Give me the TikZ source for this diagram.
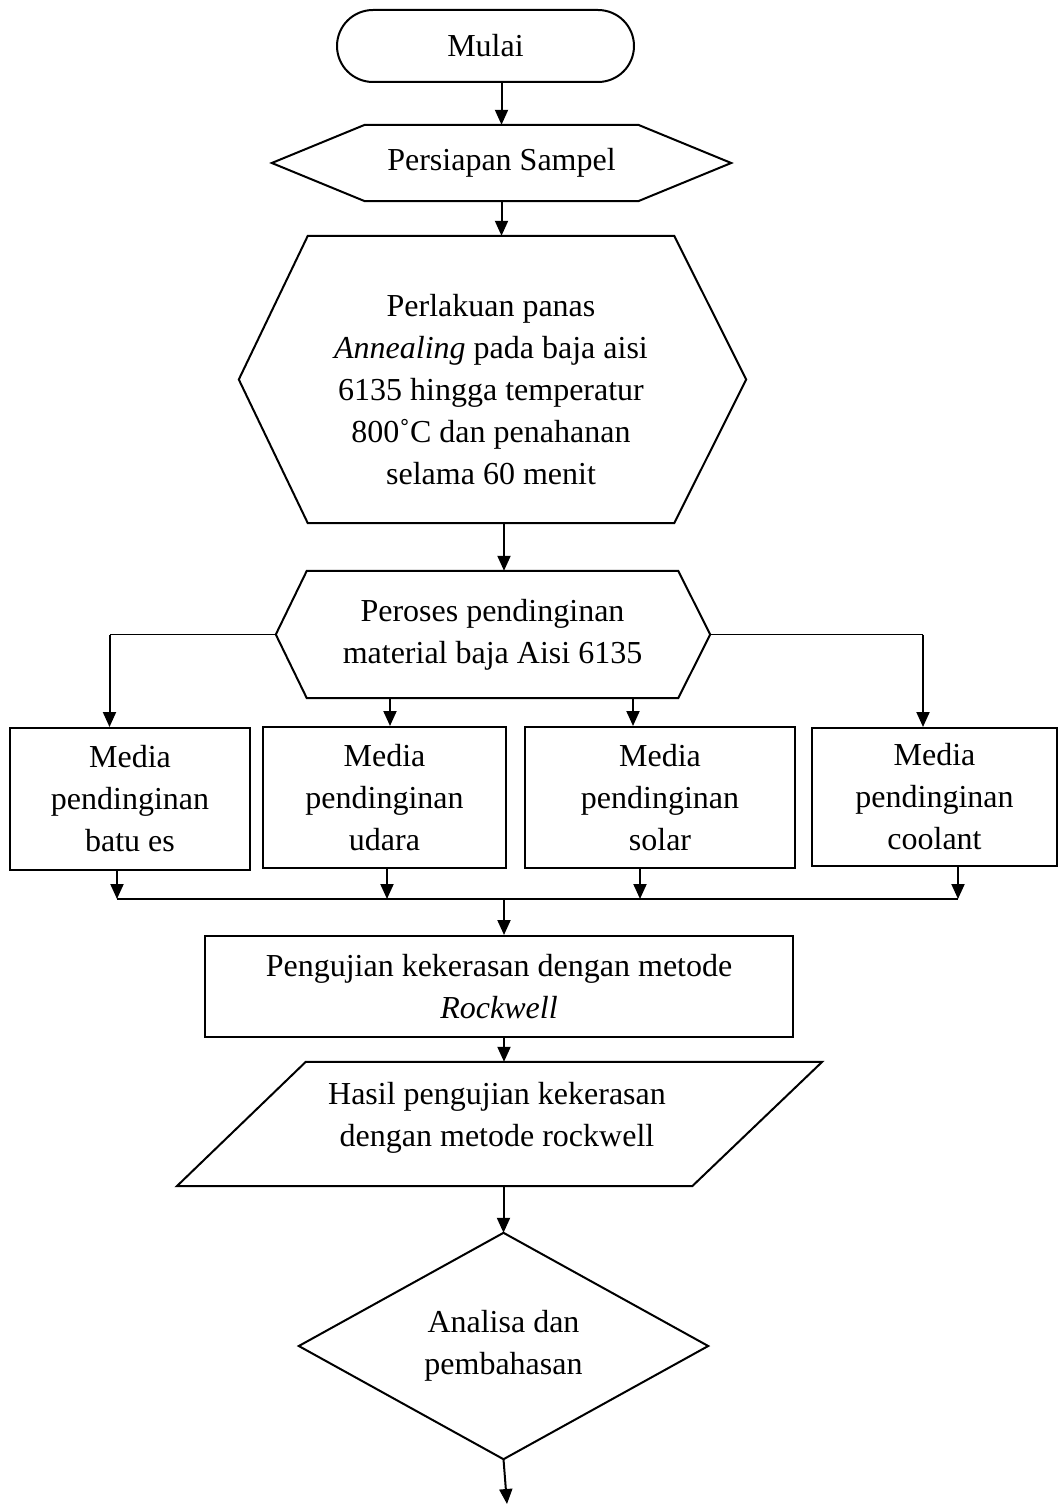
\documentclass[tikz,border=0pt]{standalone}
\usepackage{fontspec}
\setmainfont{Liberation Serif}
\usetikzlibrary{arrows.meta,calc}

\begin{document}
\begin{tikzpicture}[
  x=1pt, y=-1pt,
  font=\fontsize{32}{42}\selectfont,
  >={Triangle[length=15pt,width=13pt]},
  term/.style={draw,line width=2pt,rounded corners=36pt,inner sep=0pt,
               minimum width=297pt,minimum height=72pt},
  area/.style={align=center,inner sep=0pt},
  box/.style={draw,line width=2pt,align=center,inner sep=0pt},
  outline/.style={line width=2pt,line join=miter},
  flow/.style={->,line width=2pt},
  link/.style={line width=1.2pt},
]
\useasboundingbox (0,0) rectangle (1058,1506);

% --- main column ---
\node[term] (start) at (485.5,46) {Mulai};
\node[area,minimum width=273pt,minimum height=76pt] (prep) at (501.5,163) {Persiapan Sampel};
\node[area,minimum width=366pt,minimum height=287pt] (heat) at (491,379.5) {};
\node[area] (heattxt) at (491,390)
  {Perlakuan panas\\\textit{Annealing} pada baja aisi\\6135 hingga temperatur\\800˚C dan penahanan\\selama 60 menit};
\node[area,minimum width=371pt,minimum height=127pt] (cool) at (492.5,634.5)
  {Peroses pendinginan\\material baja Aisi 6135};

% --- cooling media ---
\node[box,minimum width=240pt,minimum height=142pt] (box1) at (130,799)   {Media\\pendinginan\\batu es};
\node[box,minimum width=243pt,minimum height=141pt] (box2) at (384.5,797.5) {Media\\pendinginan\\udara};
\node[box,minimum width=270pt,minimum height=141pt] (box3) at (660,797.5)   {Media\\pendinginan\\solar};
\node[box,minimum width=245pt,minimum height=138pt] (box4) at (934.5,797)   {Media\\pendinginan\\coolant};

% --- testing and result ---
\node[box,minimum width=588pt,minimum height=101pt] (test) at (499,986.5)
  {Pengujian kekerasan dengan metode\\\textit{Rockwell}};
\node[area,minimum width=386pt,minimum height=124pt] (out) at (499,1124) {};
\node[area] (outtxt) at (497,1118)
  {Hasil pengujian kekerasan\\dengan metode rockwell};
\node[area,minimum width=409pt,minimum height=226pt] (anal) at (503.5,1346)
  {Analisa dan\\pembahasan};

% --- outlines of the non-rectangular shapes ---
\coordinate (coolL) at ([xshift=-31pt]cool.west);
\coordinate (coolR) at ([xshift=32pt]cool.east);
\draw[outline] ([xshift=-93pt]prep.west) -- (prep.north west) -- (prep.north east)
  -- ([xshift=93pt]prep.east) -- (prep.south east) -- (prep.south west) -- cycle;
\draw[outline] ([xshift=-69pt]heat.west) -- (heat.north west) -- (heat.north east)
  -- ([xshift=72pt]heat.east) -- (heat.south east) -- (heat.south west) -- cycle;
\draw[outline] (coolL) -- (cool.north west) -- (cool.north east)
  -- (coolR) -- (cool.south east) -- (cool.south west) -- cycle;
\draw[outline] (out.north west) -- ([xshift=130pt]out.north east)
  -- (out.south east) -- ([xshift=-129pt]out.south west) -- cycle;
\draw[outline] (anal.north) -- (anal.east) -- (anal.south) -- (anal.west) -- cycle;

% --- helper points for the connectors ---
\coordinate (spine) at (504,0);
\coordinate (kL) at (109.5,0);
\coordinate (kR) at (923,0);
\coordinate (m2) at (390,0);
\coordinate (m3) at (633,0);
\coordinate (c1) at (117,899);
\coordinate (c2) at (387,899);
\coordinate (c3) at (640,899);
\coordinate (c4) at (958,899);
\coordinate (join) at (504,899);
\coordinate (stop) at (507,1504);

% --- connectors ---
\draw[flow] (start.south -| prep.north) -- (prep.north);
\draw[flow] (prep.south) -- (prep.south |- heat.north);
\draw[flow] (heat.south -| spine) -- (cool.north -| spine);

\draw[link] (coolL) -- (coolL -| kL);
\draw[flow] (coolL -| kL) -- (box1.north -| kL);
\draw[link] (coolR) -- (coolR -| kR);
\draw[flow] (coolR -| kR) -- (box4.north -| kR);
\draw[flow] (cool.south -| m2) -- (box2.north -| m2);
\draw[flow] (cool.south -| m3) -- (box3.north -| m3);

\draw[flow] (box1.south -| c1) -- (c1);
\draw[flow] (box2.south -| c2) -- (c2);
\draw[flow] (box3.south -| c3) -- (c3);
\draw[flow] (box4.south -| c4) -- (c4);
\draw[link] (c1) -- (c4);
\draw[flow] (join) -- (test.north -| join);

\draw[flow] (test.south -| spine) -- (out.north -| spine);
\draw[flow] (out.south -| anal.north) -- (anal.north);
\draw[flow] (anal.south) -- (stop);

\end{tikzpicture}
\end{document}
